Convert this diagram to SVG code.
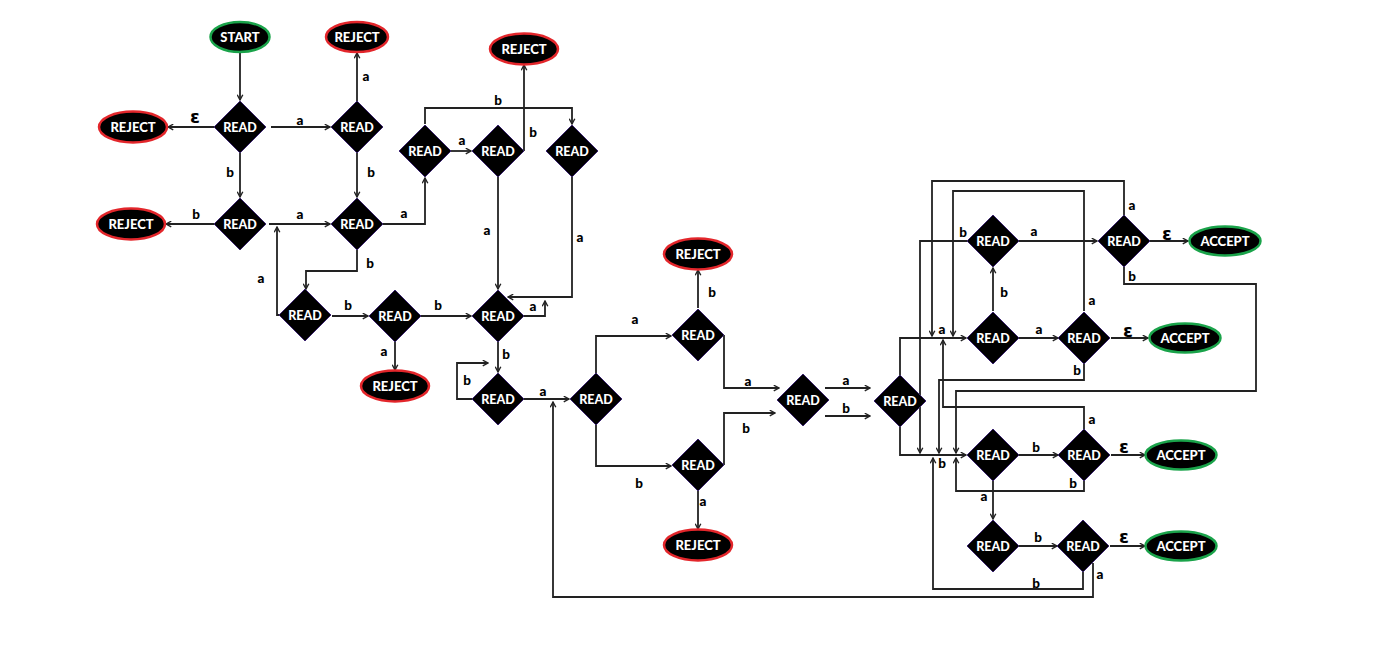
<svg xmlns="http://www.w3.org/2000/svg" xmlns:xlink="http://www.w3.org/1999/xlink" width="1384" height="651" viewBox="0 0 1384 651">
<defs>
<style>
.c{fill:none;stroke:#222;stroke-width:1.8;marker-end:url(#ah)}
.d{fill:#000;stroke:#3b2470;stroke-width:1}
.t{fill:#fff;font-family:Lato,"Liberation Sans",sans-serif;font-weight:900;font-size:12.5px;text-anchor:middle}
.et{fill:#fff;font-family:Lato,"Liberation Sans",sans-serif;font-weight:900;font-size:13px;text-anchor:middle}
.rj{fill:#000;stroke:#e3262b;stroke-width:2.5}
.ac{fill:#000;stroke:#1aa34a;stroke-width:2.5}
.l{fill:#000;font-family:Lato,"Liberation Sans",sans-serif;font-weight:900;font-size:13.5px;text-anchor:middle}
.e{fill:#000;font-family:"DejaVu Sans",sans-serif;font-weight:bold;font-size:18px;text-anchor:middle}
</style>
<marker id="ah" viewBox="0 0 10 10" refX="9" refY="5" markerWidth="7" markerHeight="7" markerUnits="userSpaceOnUse" orient="auto"><path d="M1.5,1 L9,5 L1.5,9" fill="none" stroke="#222" stroke-width="2"/></marker>
<path id="dm" d="M0,-26 L26,0 L0,26 L-26,0Z"/>
</defs>
<rect width="1384" height="651" fill="#fff"/>

<g id="connectors">
<path class="c" d="M240,52 V100"/>
<path class="c" d="M214,127 H168"/>
<path class="c" d="M271,127 H330"/>
<path class="c" d="M357,101 V53"/>
<path class="c" d="M240,153 V197"/>
<path class="c" d="M357,153 V197"/>
<path class="c" d="M214,224 H166"/>
<path class="c" d="M269,224 H330"/>
<path class="c" d="M279,315 H277 V227"/>
<path class="c" d="M383,224 H425 V178"/>
<path class="c" d="M357,250 V271 H306 V289"/>
<path class="c" d="M451,151 H471"/>
<path class="c" d="M425,124 V108 H572 V124"/>
<path class="c" d="M524,151 V65"/>
<path class="c" d="M498,177 V289"/>
<path class="c" d="M572,177 V297 H508"/>
<path class="c" d="M332,316 H368"/>
<path class="c" d="M421,316 H471"/>
<path class="c" d="M395,342 V370"/>
<path class="c" d="M524,316 H545 V301"/>
<path class="c" d="M498,342 V372"/>
<path class="c" d="M472,399 H457 V363 H488"/>
<path class="c" d="M524,399 H569"/>
<path class="c" d="M1093,563 V597 H553 V402"/>
<path class="c" d="M596,373 V336 H671"/>
<path class="c" d="M596,425 V466 H671"/>
<path class="c" d="M698,308 V270"/>
<path class="c" d="M698,491 V529"/>
<path class="c" d="M724,335 V388 H779"/>
<path class="c" d="M724,465 V413 H775"/>
<path class="c" d="M825,388 H870"/>
<path class="c" d="M825,416 H870"/>
<path class="c" d="M900,375 V338 H966"/>
<path class="c" d="M900,427 V455 H966"/>
<path class="c" d="M1019,241 H1097"/>
<path class="c" d="M1150,241 H1188"/>
<path class="c" d="M993,311 V268"/>
<path class="c" d="M967,241 H920 V453"/>
<path class="c" d="M1124,215 V181 H932 V336"/>
<path class="c" d="M1084,311 V191 H953 V336"/>
<path class="c" d="M1124,267 V284 H1256 V391 H956 V453"/>
<path class="c" d="M1019,338 H1058"/>
<path class="c" d="M1111,338 H1148"/>
<path class="c" d="M1084,364 V380 H939 V453"/>
<path class="c" d="M1084,429 V407 H943 V340"/>
<path class="c" d="M1019,455 H1058"/>
<path class="c" d="M1111,455 H1145"/>
<path class="c" d="M1084,481 V491 H956 V458"/>
<path class="c" d="M993,481 V519"/>
<path class="c" d="M1019,546 H1057"/>
<path class="c" d="M1110,546 H1145"/>
<path class="c" d="M1083,572 V589 H933 V458"/>
</g>

<g id="labels">
<text class="e" x="195" y="123">ε</text>
<text class="l" x="300" y="125">a</text>
<text class="l" x="366" y="81">a</text>
<text class="l" x="230" y="177">b</text>
<text class="l" x="371" y="177">b</text>
<text class="l" x="196" y="219">b</text>
<text class="l" x="300" y="219">a</text>
<text class="l" x="404" y="218">a</text>
<text class="l" x="261" y="283">a</text>
<text class="l" x="370" y="268">b</text>
<text class="l" x="348" y="310">b</text>
<text class="l" x="438" y="310">b</text>
<text class="l" x="384" y="356">a</text>
<text class="l" x="462" y="145">a</text>
<text class="l" x="498" y="105">b</text>
<text class="l" x="533" y="137">b</text>
<text class="l" x="487" y="235">a</text>
<text class="l" x="580" y="242">a</text>
<text class="l" x="533" y="311">a</text>
<text class="l" x="506" y="359">b</text>
<text class="l" x="467" y="385">b</text>
<text class="l" x="543" y="396">a</text>
<text class="l" x="635" y="324">a</text>
<text class="l" x="639" y="488">b</text>
<text class="l" x="712" y="297">b</text>
<text class="l" x="703" y="506">a</text>
<text class="l" x="748" y="386">a</text>
<text class="l" x="746" y="433">b</text>
<text class="l" x="846" y="385">a</text>
<text class="l" x="846" y="413">b</text>
<text class="l" x="963" y="237">b</text>
<text class="l" x="1034" y="236">a</text>
<text class="e" x="1167" y="240">ε</text>
<text class="l" x="1132" y="210">a</text>
<text class="l" x="1132" y="281">b</text>
<text class="l" x="1004" y="297">b</text>
<text class="l" x="942" y="334">a</text>
<text class="l" x="1039" y="334">a</text>
<text class="e" x="1128" y="337">ε</text>
<text class="l" x="1092" y="305">a</text>
<text class="l" x="1077" y="375">b</text>
<text class="l" x="1092" y="424">a</text>
<text class="l" x="942" y="468">b</text>
<text class="l" x="1036" y="452">b</text>
<text class="e" x="1124" y="453">ε</text>
<text class="l" x="1073" y="488">b</text>
<text class="l" x="984" y="501">a</text>
<text class="l" x="1038" y="542">b</text>
<text class="e" x="1124" y="543">ε</text>
<text class="l" x="1036" y="588">b</text>
<text class="l" x="1100" y="579">a</text>
</g>

<g id="start"><ellipse class="ac" cx="240" cy="37" rx="29.5" ry="15"/><text class="et" x="240" y="41.5">START</text></g>
<g id="reject1"><ellipse class="rj" cx="357" cy="37" rx="31" ry="15"/><text class="et" x="357" y="41.5">REJECT</text></g>
<g id="reject2"><ellipse class="rj" cx="133" cy="127" rx="34" ry="15.5"/><text class="et" x="133" y="131.5">REJECT</text></g>
<g id="reject3"><ellipse class="rj" cx="131" cy="224" rx="34" ry="15.5"/><text class="et" x="131" y="228.5">REJECT</text></g>
<g id="reject4"><ellipse class="rj" cx="524" cy="49" rx="34" ry="15.5"/><text class="et" x="524" y="53.5">REJECT</text></g>
<g id="reject5"><ellipse class="rj" cx="395" cy="386" rx="34" ry="15.5"/><text class="et" x="395" y="390.5">REJECT</text></g>
<g id="reject6"><ellipse class="rj" cx="698" cy="254" rx="34" ry="15.5"/><text class="et" x="698" y="258.5">REJECT</text></g>
<g id="reject7"><ellipse class="rj" cx="698" cy="545" rx="34" ry="15.5"/><text class="et" x="698" y="549.5">REJECT</text></g>
<g id="accept1"><ellipse class="ac" cx="1225" cy="241" rx="35.5" ry="14.5"/><text class="et" x="1225" y="245.5">ACCEPT</text></g>
<g id="accept2"><ellipse class="ac" cx="1185" cy="338" rx="35.5" ry="14.5"/><text class="et" x="1185" y="342.5">ACCEPT</text></g>
<g id="accept3"><ellipse class="ac" cx="1181" cy="455" rx="35.5" ry="14.5"/><text class="et" x="1181" y="459.5">ACCEPT</text></g>
<g id="accept4"><ellipse class="ac" cx="1181" cy="546" rx="35.5" ry="14.5"/><text class="et" x="1181" y="550.5">ACCEPT</text></g>

<g id="readA"><use xlink:href="#dm" class="d" x="240" y="127"/><text class="t" x="240" y="131.5">READ</text></g>
<g id="readB"><use xlink:href="#dm" class="d" x="357" y="127"/><text class="t" x="357" y="131.5">READ</text></g>
<g id="readC"><use xlink:href="#dm" class="d" x="240" y="224"/><text class="t" x="240" y="228.5">READ</text></g>
<g id="readD"><use xlink:href="#dm" class="d" x="357" y="224"/><text class="t" x="357" y="228.5">READ</text></g>
<g id="readE"><use xlink:href="#dm" class="d" x="425" y="151"/><text class="t" x="425" y="155.5">READ</text></g>
<g id="readF"><use xlink:href="#dm" class="d" x="498" y="151"/><text class="t" x="498" y="155.5">READ</text></g>
<g id="readG"><use xlink:href="#dm" class="d" x="572" y="151"/><text class="t" x="572" y="155.5">READ</text></g>
<g id="readH"><use xlink:href="#dm" class="d" x="305" y="315"/><text class="t" x="305" y="319.5">READ</text></g>
<g id="readI"><use xlink:href="#dm" class="d" x="395" y="316"/><text class="t" x="395" y="320.5">READ</text></g>
<g id="readJ"><use xlink:href="#dm" class="d" x="498" y="316"/><text class="t" x="498" y="320.5">READ</text></g>
<g id="readK"><use xlink:href="#dm" class="d" x="498" y="399"/><text class="t" x="498" y="403.5">READ</text></g>
<g id="readL"><use xlink:href="#dm" class="d" x="596" y="399"/><text class="t" x="596" y="403.5">READ</text></g>
<g id="readM"><use xlink:href="#dm" class="d" x="698" y="335"/><text class="t" x="698" y="339.5">READ</text></g>
<g id="readN"><use xlink:href="#dm" class="d" x="698" y="465"/><text class="t" x="698" y="469.5">READ</text></g>
<g id="readO"><use xlink:href="#dm" class="d" x="803" y="400"/><text class="t" x="803" y="404.5">READ</text></g>
<g id="readP"><use xlink:href="#dm" class="d" x="900" y="401"/><text class="t" x="900" y="405.5">READ</text></g>
<g id="readQ"><use xlink:href="#dm" class="d" x="993" y="241"/><text class="t" x="993" y="245.5">READ</text></g>
<g id="readR"><use xlink:href="#dm" class="d" x="1124" y="241"/><text class="t" x="1124" y="245.5">READ</text></g>
<g id="readS"><use xlink:href="#dm" class="d" x="993" y="338"/><text class="t" x="993" y="342.5">READ</text></g>
<g id="readT"><use xlink:href="#dm" class="d" x="1084" y="338"/><text class="t" x="1084" y="342.5">READ</text></g>
<g id="readU"><use xlink:href="#dm" class="d" x="993" y="455"/><text class="t" x="993" y="459.5">READ</text></g>
<g id="readV"><use xlink:href="#dm" class="d" x="1084" y="455"/><text class="t" x="1084" y="459.5">READ</text></g>
<g id="readW"><use xlink:href="#dm" class="d" x="993" y="546"/><text class="t" x="993" y="550.5">READ</text></g>
<g id="readX"><use xlink:href="#dm" class="d" x="1083" y="546"/><text class="t" x="1083" y="550.5">READ</text></g>
</svg>
